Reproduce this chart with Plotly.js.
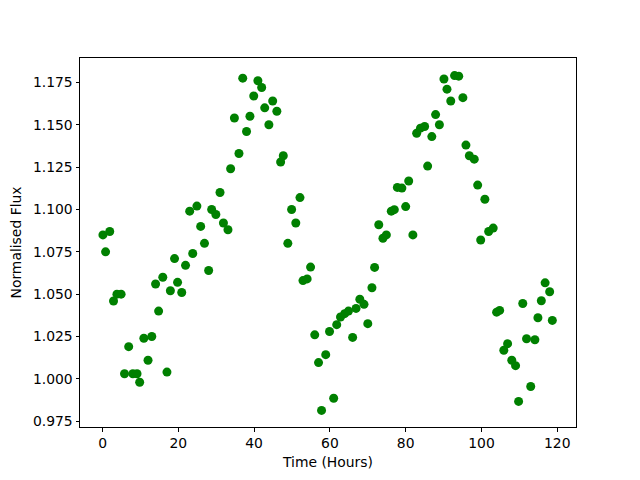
<!DOCTYPE html>
<html>
<head>
<meta charset="utf-8">
<script src="https://cdn.plot.ly/plotly-3.0.1.min.js"></script>
<style>html,body{margin:0;padding:0;background:#fff;}#chart{width:640px;height:480px;}</style>
</head>
<body>
<div id="chart"></div>
<script>
const timeHours = [
  0.1, 0.8, 1.9, 2.9, 3.8, 4.9, 5.8, 6.9, 8.0, 9.1,
  9.8, 10.9, 12.0, 13.0, 14.0, 14.8, 15.9, 17.0, 17.9, 19.0,
  19.8, 20.9, 21.9, 23.0, 23.8, 24.9, 25.9, 26.9, 28.0, 28.8,
  29.9, 31.0, 31.9, 33.1, 33.8, 34.8, 36.0, 37.0, 38.0, 38.9,
  39.9, 41.0, 42.0, 42.8, 43.9, 44.9, 46.0, 47.0, 47.7, 48.9,
  49.9, 51.0, 52.1, 52.9, 54.0, 54.9, 56.0, 57.0, 57.8, 58.9,
  59.9, 61.0, 61.8, 62.8, 63.9, 64.9, 66.0, 66.9, 67.9, 69.0,
  70.0, 71.1, 71.8, 72.9, 74.0, 74.9, 76.2, 77.0, 77.8, 79.0,
  80.0, 80.8, 81.9, 82.9, 83.9, 85.0, 85.8, 86.9, 87.9, 88.9,
  90.1, 90.9, 91.9, 92.9, 94.0, 95.1, 95.9, 96.8, 98.1, 99.0,
  99.8, 100.9, 101.9, 103.1, 104.0, 104.8, 105.9, 106.9, 108.0, 109.0,
  109.8, 110.9, 111.9, 113.0, 114.1, 114.9, 115.8, 116.8, 118.0, 118.7
];
const normFlux = [
  1.085, 1.075, 1.087, 1.046, 1.050, 1.050, 1.003, 1.019, 1.003, 1.003,
  0.998, 1.024, 1.011, 1.025, 1.056, 1.040, 1.060, 1.004, 1.052, 1.071,
  1.057, 1.051, 1.067, 1.099, 1.074, 1.102, 1.090, 1.080, 1.064, 1.100,
  1.097, 1.110, 1.092, 1.088, 1.124, 1.154, 1.133, 1.1775, 1.146, 1.155,
  1.167, 1.176, 1.172, 1.160, 1.150, 1.164, 1.158, 1.128, 1.1317, 1.080,
  1.100, 1.092, 1.107, 1.058, 1.059, 1.066, 1.026, 1.0096, 0.9814, 1.0143,
  1.028, 0.9886, 1.032, 1.0365, 1.0385, 1.040, 1.0245, 1.0416, 1.047, 1.044,
  1.0326, 1.0538, 1.0658, 1.091, 1.083, 1.085, 1.099, 1.0999, 1.113, 1.1126,
  1.1017, 1.1168, 1.085, 1.145, 1.148, 1.149, 1.1256, 1.143, 1.156, 1.150,
  1.177, 1.171, 1.164, 1.179, 1.1787, 1.166, 1.138, 1.1317, 1.1297, 1.1144,
  1.082, 1.106, 1.087, 1.089, 1.0394, 1.0404, 1.0169, 1.0208, 1.011, 1.0078,
  0.9867, 1.0445, 1.0237, 0.9955, 1.0231, 1.0361, 1.0461, 1.0567, 1.0514, 1.0345
];
const xLabel = "Time (Hours)";
const yLabel = "Normalised Flux";

const font = {family: "DejaVu Sans, sans-serif", size: 13.9, color: "#000"};

const trace = {
  x: timeHours,
  y: normFlux,
  type: "scatter",
  mode: "markers",
  marker: {color: "#008000", size: 9, line: {width: 0}},
  hoverinfo: "skip"
};

const axisCommon = {
  showgrid: false,
  zeroline: false,
  showline: true,
  mirror: true,
  linecolor: "#000",
  linewidth: 1,
  ticks: "outside",
  ticklen: 3.5,
  tickwidth: 1,
  tickcolor: "#000",
  tickfont: font
};

const layout = {
  width: 640,
  height: 480,
  margin: {l: 80, r: 64, t: 58, b: 53, pad: 0},
  paper_bgcolor: "#fff",
  plot_bgcolor: "#fff",
  font: font,
  showlegend: false,
  xaxis: Object.assign({}, axisCommon, {
    range: [-5.95, 124.95],
    tick0: 0,
    dtick: 20,
    title: {text: xLabel, font: font, standoff: 7}
  }),
  yaxis: Object.assign({}, axisCommon, {
    range: [0.9716, 1.1894],
    tick0: 0.975,
    dtick: 0.025,
    tickformat: ".3f",
    title: {text: yLabel, font: font, standoff: 8}
  })
};

Plotly.newPlot("chart", [trace], layout, {displayModeBar: false, staticPlot: true});
</script>
</body>
</html>
